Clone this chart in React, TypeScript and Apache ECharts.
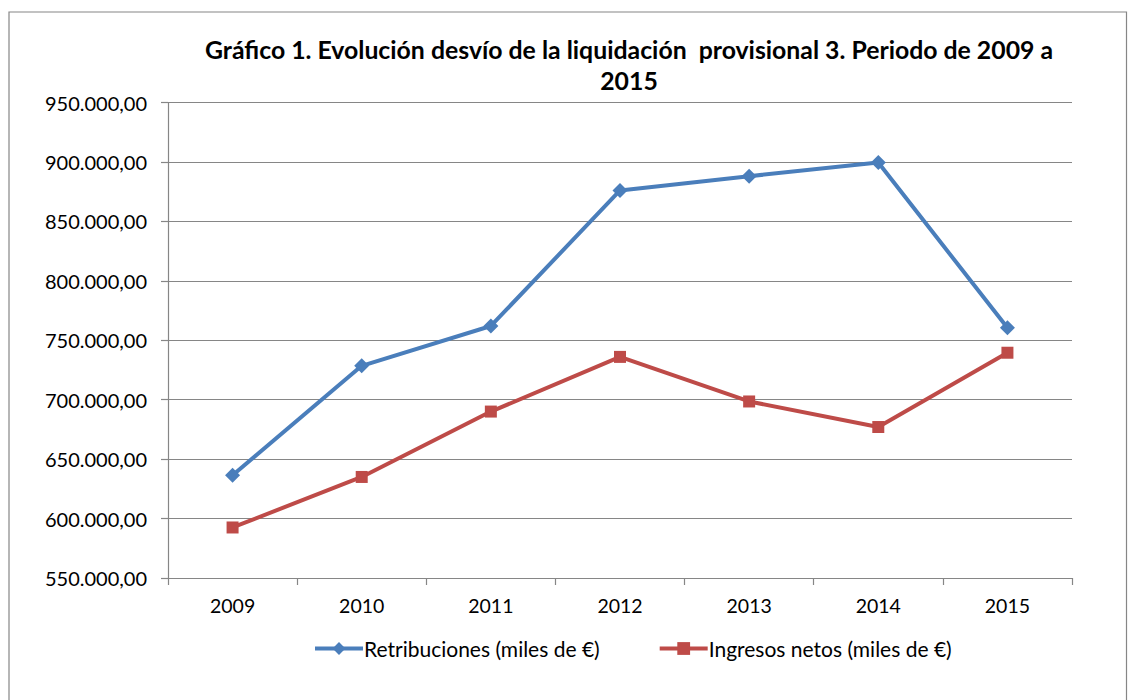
import React, { useEffect, useRef } from "react";
import * as echarts from "echarts";

const years = ["2009", "2010", "2011", "2012", "2013", "2014", "2015"];
const retribuciones = [636500, 728500, 762000, 876000, 888000, 899500, 760500];
const ingresosNetos = [592500, 635000, 690000, 736000, 698500, 677000, 739500];
const titleText = "Gráfico 1. Evolución desvío de la liquidación  provisional 3. Periodo de 2009 a\n2015";
const seriesNames = ["Retribuciones (miles de €)", "Ingresos netos (miles de €)"];

const FONT = "Lato, 'Open Sans', sans-serif";

function fmt(v: number): string {
  const s = Math.round(v).toString();
  const withDots = s.replace(/\B(?=(\d{3})+(?!\d))/g, ".");
  return withDots + ",00";
}

export default function App() {
  const ref = useRef<HTMLDivElement>(null);
  useEffect(() => {
    if (!ref.current) return;
    const chart = echarts.init(ref.current, null, { renderer: "svg" });
    chart.setOption({
      animation: false,
      backgroundColor: "#ffffff",
      textStyle: { fontFamily: FONT },
      graphic: [
        {
          type: "rect",
          shape: { x: 9, y: 12, width: 1117.5, height: 700 },
          style: { fill: "none", stroke: "#868686", lineWidth: 1.2 },
          silent: true,
        },
      ],
      title: {
        text: titleText,
        left: 624,
        textAlign: "center",
        top: 29,
        textStyle: {
          fontFamily: FONT,
          fontWeight: "bold",
          fontSize: 24.8,
          lineHeight: 31,
          color: "#000",
        },
      },
      grid: { left: 168, right: 56, top: 102.5, bottom: 122, containLabel: false },
      xAxis: {
        type: "category",
        data: years,
        boundaryGap: true,
        axisLine: { lineStyle: { color: "#868686", width: 1.2 } },
        axisTick: { show: true, length: 7, alignWithLabel: false, lineStyle: { color: "#868686", width: 1.2 } },
        axisLabel: { color: "#000", fontSize: 19.5, fontFamily: FONT, margin: 17 },
        splitLine: { show: false },
      },
      yAxis: {
        type: "value",
        min: 550000,
        max: 950000,
        interval: 50000,
        axisLine: { show: true, lineStyle: { color: "#868686", width: 1.2 } },
        axisTick: { show: true, length: 7, lineStyle: { color: "#868686", width: 1.2 } },
        axisLabel: { color: "#000", fontSize: 20, fontFamily: FONT, margin: 21, formatter: (v: number) => fmt(v) },
        splitLine: { show: true, lineStyle: { color: "#868686", width: 1.2 } },
      },
      legend: {
        top: 633,
        left: 308,
        itemWidth: 48,
        itemHeight: 16,
        itemGap: 58,
        lineStyle: { width: 4 },
        textStyle: { color: "#000", fontSize: 21, fontFamily: FONT, padding: [0, 0, 0, -4] },
        data: seriesNames,
      },
      series: [
        {
          name: seriesNames[0],
          type: "line",
          data: retribuciones,
          symbol: "diamond",
          symbolSize: 15,
          lineStyle: { color: "#4A7EBB", width: 4 },
          itemStyle: { color: "#4A7EBB" },
        },
        {
          name: seriesNames[1],
          type: "line",
          data: ingresosNetos,
          symbol: "rect",
          symbolSize: 12,
          lineStyle: { color: "#BE4B48", width: 4 },
          itemStyle: { color: "#BE4B48" },
        },
      ],
    });
    return () => chart.dispose();
  }, []);
  return (
    <div
      ref={ref}
      style={{ position: "absolute", left: 0, top: 0, width: 1128, height: 700 }}
    />
  );
}
